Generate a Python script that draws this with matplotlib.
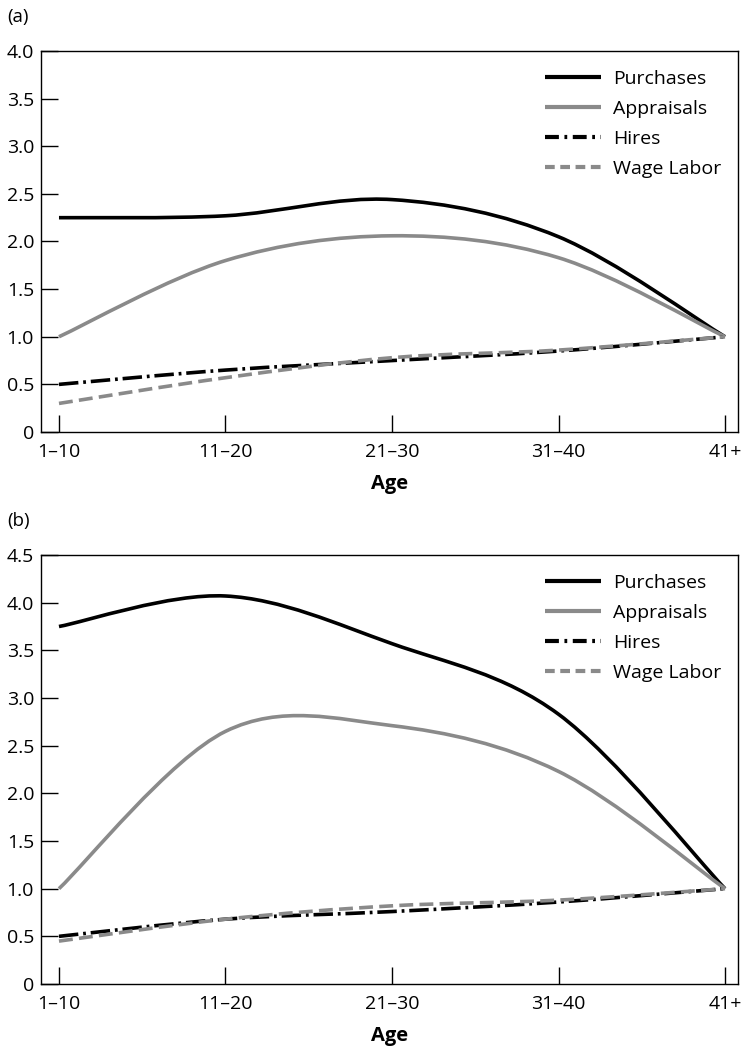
import matplotlib
matplotlib.use("Agg")
import matplotlib.pyplot as plt
from matplotlib.path import Path
from matplotlib.patches import PathPatch
from matplotlib.lines import Line2D
import numpy as np

plt.rcParams['font.family'] = ['Open Sans', 'DejaVu Sans']
plt.rcParams['lines.scale_dashes'] = False

age_labels = ["1\u201310", "11\u201320", "21\u201330", "31\u201340", "41+"]
series_names = ["Purchases", "Appraisals", "Hires", "Wage Labor"]

# Panel (a)
a_purchases = [2.25, 2.27, 2.44, 2.05, 1.0]
a_appraisals = [1.0, 1.80, 2.06, 1.83, 1.0]
a_hires = [0.50, 0.65, 0.75, 0.85, 1.0]
a_wage = [0.30, 0.57, 0.78, 0.86, 1.0]

# Panel (b)
b_purchases = [3.75, 4.07, 3.57, 2.83, 1.0]
b_appraisals = [1.0, 2.65, 2.71, 2.23, 1.0]
b_hires = [0.50, 0.68, 0.76, 0.86, 1.0]
b_wage = [0.45, 0.68, 0.82, 0.88, 1.0]

GRAY = "#8a8a8a"
styles = [
    dict(color="black", dashes=None, leg=None),
    dict(color=GRAY, dashes=None, leg=None),
    dict(color="black", dashes=(14, 3.5, 2, 3.5), leg=(10, 4, 2, 4)),
    dict(color=GRAY, dashes=(10, 4.5), leg=(7, 4)),
]
LW = 2.6


def smooth_path(xs, ys):
    # Catmull-Rom style Bezier (like a spreadsheet "smoothed line")
    xs = np.asarray(xs, float)
    ys = np.asarray(ys, float)
    n = len(xs)
    verts = [(xs[0], ys[0])]
    codes = [Path.MOVETO]
    for i in range(n - 1):
        p0 = (xs[i - 1], ys[i - 1]) if i > 0 else (xs[i], ys[i])
        p1 = (xs[i], ys[i])
        p2 = (xs[i + 1], ys[i + 1])
        p3 = (xs[i + 2], ys[i + 2]) if i + 2 < n else p2
        c1 = (p1[0] + (p2[0] - p0[0]) / 6, p1[1] + (p2[1] - p0[1]) / 6)
        c2 = (p2[0] - (p3[0] - p1[0]) / 6, p2[1] - (p3[1] - p1[1]) / 6)
        verts += [c1, c2, p2]
        codes += [Path.CURVE4] * 3
    return Path(verts, codes)


fig = plt.figure(figsize=(7.44, 10.52), dpi=100)
W, H = 744, 1052


def make_panel(rect_px, ymax, yticks, data, tag, tag_y):
    l, t, r, b = rect_px
    ax = fig.add_axes([l / W, 1 - b / H, (r - l) / W, (b - t) / H])
    x = np.arange(len(age_labels))
    for vals, st in zip(data, styles):
        patch = PathPatch(smooth_path(x, vals), facecolor="none",
                          edgecolor=st["color"], lw=LW,
                          capstyle="butt", joinstyle="round")
        if st["dashes"] is not None:
            patch.set_linestyle((0, st["dashes"]))
        ax.add_patch(patch)
    ax.set_xlim(-0.108, 4.078)
    ax.set_ylim(0, ymax)
    ax.set_xticks(x)
    ax.set_xticklabels(age_labels)
    ax.set_yticks(yticks)
    ax.set_yticklabels(["0" if v == 0 else f"{v:.1f}" for v in yticks])
    ax.tick_params(direction="in", length=12, width=1.0, labelsize=14,
                   colors="black")
    ax.tick_params(axis="y", pad=5)
    ax.tick_params(axis="x", pad=8)
    for s in ax.spines.values():
        s.set_linewidth(1.0)
    ax.set_xlabel("Age", fontsize=14.5, fontweight="bold", labelpad=9)
    handles = [Line2D([], [], color=st["color"], lw=3.0, solid_capstyle="butt",
                      dash_capstyle="butt",
                      linestyle=(0, st["leg"]) if st["leg"] else "-")
               for st in styles]
    ax.legend(handles, series_names, loc="upper left", frameon=False,
              fontsize=14, handlelength=2.9, handletextpad=0.6,
              labelspacing=0.62, borderpad=0, borderaxespad=0,
              bbox_to_anchor=(545 / W, 1 - (t + 19) / H),
              bbox_transform=fig.transFigure)
    fig.text(7 / W, 1 - tag_y / H, tag, fontsize=13.5, va="center", ha="left")
    return ax


make_panel((41, 51, 738, 432), 4.0, [0, 0.5, 1.0, 1.5, 2.0, 2.5, 3.0, 3.5, 4.0],
           [a_purchases, a_appraisals, a_hires, a_wage], "(a)", 17)
make_panel((41, 555, 738, 984), 4.5, [0, 0.5, 1.0, 1.5, 2.0, 2.5, 3.0, 3.5, 4.0, 4.5],
           [b_purchases, b_appraisals, b_hires, b_wage], "(b)", 521)

fig.savefig("out.png", dpi=100)
